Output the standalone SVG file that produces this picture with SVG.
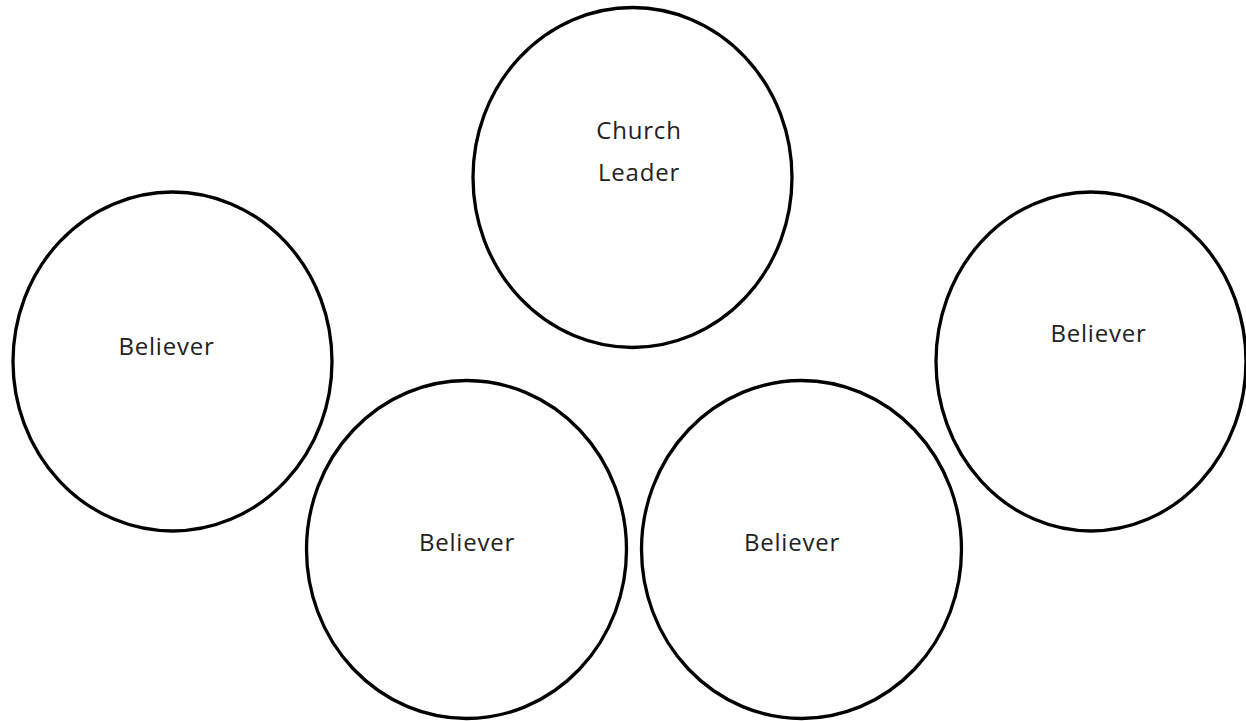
<svg xmlns="http://www.w3.org/2000/svg" width="1246" height="721" viewBox="0 0 1246 721">
<style>
.n{fill:#fff;stroke:#000;stroke-width:3.3}
.t{font-family:"Open Sans","Noto Sans",sans-serif;font-size:24px;letter-spacing:0.8px;fill:#222;text-anchor:middle}
</style>
<rect width="1246" height="721" fill="#fff"/>
<g id="leader"><ellipse class="n" cx="632.5" cy="177.5" rx="159.5" ry="170"/><text class="t" x="639" y="139">Church</text><text class="t" x="639" y="181">Leader</text></g>
<g id="believer-left"><ellipse class="n" cx="172.5" cy="361.5" rx="159.5" ry="169.5"/><text class="t" x="166.5" y="355">Believer</text></g>
<g id="believer-right"><ellipse class="n" cx="1091" cy="361.5" rx="155" ry="169.5"/><text class="t" x="1098.5" y="342">Believer</text></g>
<g id="believer-bottom-left"><ellipse class="n" cx="466.5" cy="549.5" rx="160" ry="169"/><text class="t" x="467" y="551">Believer</text></g>
<g id="believer-bottom-right"><ellipse class="n" cx="801.5" cy="549.5" rx="160" ry="169"/><text class="t" x="792" y="551">Believer</text></g>
<g id="connectors"/>
</svg>
